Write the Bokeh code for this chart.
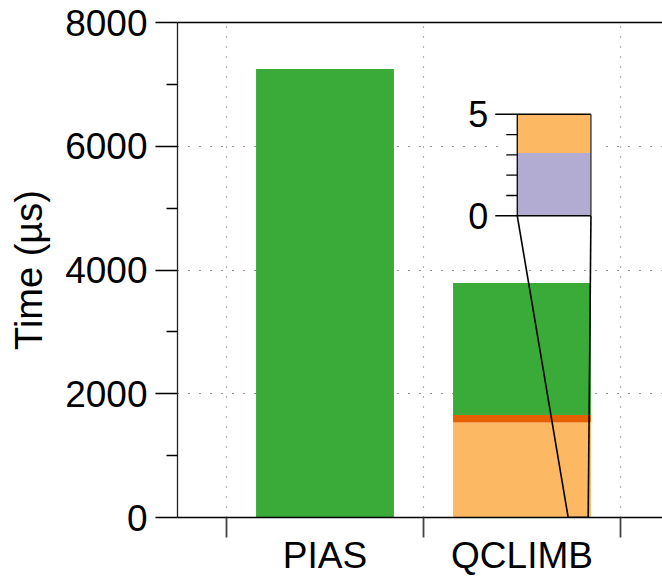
from bokeh.plotting import figure
from bokeh.models import ColumnDataSource, FixedTicker, LinearAxis, Range1d
from bokeh.embed import file_html
from bokeh.resources import INLINE
from bokeh.core.properties import value
import numpy as np

# ---------------- data ----------------
categories = ["PIAS", "QCLIMB"]
cat_pos = [1, 2]
stage_purple = [0.0, 3.1]          # µs
stage_light_orange = [0.0, 1534.0]
stage_dark_orange = [0.0, 120.0]
stage_green = [7250.0, 2133.0]

y_major = [0, 2000, 4000, 6000, 8000]
y_minor = [1000, 3000, 5000, 7000]
group_bounds = [0.5, 1.5, 2.5]

inset_major = [0, 5]
inset_minor = [1, 2, 3, 4]
inset_max = 5

C_PURPLE = "#b2abd2"
C_LIGHT = "#fdb863"
C_DARK = "#e66101"
C_GREEN = "#3aab39"
FONT = "Liberation Sans"

# ---------------- layout ----------------
W, H = 662, 578
LEFT, TOP, BOTTOM, RIGHT = 177, 22, 60, 0
FRAME_W = W - LEFT - RIGHT
X_START, X_END = 0.2513, 2.7132
PX_PER_X = FRAME_W / (X_END - X_START)
BAR_W = 0.7

# inset placement (main-axis coordinates)
INSET_LEFT = 1.976
INSET_RIGHT = cat_pos[1] + BAR_W / 2
INSET_Y0, INSET_Y1 = 4876.0, 6516.0
ZOOM_X0, ZOOM_X1 = 2.2345, 2.336

p = figure(width=W, height=H, x_range=Range1d(X_START, X_END), y_range=Range1d(0, 8000),
           output_backend="svg", toolbar_location=None,
           min_border_left=LEFT, min_border_right=RIGHT, min_border_top=TOP,
           min_border_bottom=BOTTOM)
p.outline_line_color = None
p.background_fill_color = "white"
p.border_fill_color = "white"

# inset y-range mapped onto the main frame
scale = (INSET_Y1 - INSET_Y0) / inset_max
p.extra_y_ranges = {"inset": Range1d(0 - INSET_Y0 / scale, inset_max + (8000 - INSET_Y1) / scale)}

# ---------------- axes ----------------
yax = p.yaxis[0]
yax.ticker = FixedTicker(ticks=y_major, minor_ticks=y_minor)
yax.major_tick_out = 22
yax.major_tick_in = 0
yax.minor_tick_out = 11
yax.minor_tick_in = 0
yax.major_tick_line_color = "black"
yax.minor_tick_line_color = "black"
yax.major_tick_line_width = 1.3
yax.minor_tick_line_width = 1.3
yax.axis_line_color = "#222"
yax.axis_line_width = 1.3
yax.major_label_text_font = FONT
yax.major_label_text_font_size = "37px"
yax.major_label_text_color = "black"
yax.major_label_standoff = 8
yax.axis_label = "Time (µs)"
yax.axis_label_text_font = FONT
yax.axis_label_text_font_size = "38px"
yax.axis_label_text_font_style = "normal"
yax.axis_label_text_color = "black"
yax.axis_label_standoff = 12

xax = p.xaxis[0]
xax.ticker = FixedTicker(ticks=cat_pos, minor_ticks=group_bounds)
xax.major_label_overrides = {pos: name for pos, name in zip(cat_pos, categories)}
xax.major_tick_out = 0
xax.major_tick_in = 0
xax.minor_tick_out = 20
xax.minor_tick_in = 0
xax.minor_tick_line_color = "#444"
xax.minor_tick_line_width = 1.8
xax.axis_line_color = "black"
xax.axis_line_width = 1.5
xax.major_label_text_font = FONT
xax.major_label_text_font_size = "37px"
xax.major_label_text_line_height = 1.0
xax.major_label_text_color = "black"
xax.major_label_standoff = -3

top_ax = LinearAxis(ticker=FixedTicker(ticks=[]), major_label_text_font_size="0px",
                    major_tick_out=0, major_tick_in=0, minor_tick_out=0, minor_tick_in=0,
                    axis_line_color="black", axis_line_width=1.5)
p.add_layout(top_ax, "above")

# ---------------- grid ----------------
p.ygrid.ticker = FixedTicker(ticks=y_major[1:-1])
p.ygrid.grid_line_dash = "1 10"
p.ygrid.grid_line_color = "#333"
p.ygrid.grid_line_width = 1.2
p.xgrid.ticker = FixedTicker(ticks=group_bounds)
p.xgrid.grid_line_dash = "1 9"
p.xgrid.grid_line_color = "#666"
p.xgrid.grid_line_width = 1.2

# ---------------- main bars ----------------
src = ColumnDataSource(dict(x=cat_pos, purple=stage_purple, light=stage_light_orange,
                            dark=stage_dark_orange, green=stage_green))
p.vbar_stack(["purple", "light", "dark", "green"], x="x", width=BAR_W,
             color=[C_PURPLE, C_LIGHT, C_DARK, C_GREEN], line_color=None, source=src)

# ---------------- inset ----------------
# white backdrop behind the inset
pad_px = 14
p.quad(left=INSET_LEFT - pad_px / PX_PER_X, right=INSET_RIGHT + 6 / PX_PER_X,
       bottom=-0.4, top=inset_max + 0.4, fill_color="white", line_color=None,
       y_range_name="inset")

q_vals = np.array([stage_purple[1], stage_light_orange[1]])
q_tops = np.clip(np.cumsum(q_vals), 0, inset_max)
q_bottoms = np.concatenate([[0.0], q_tops[:-1]])
p.quad(left=INSET_LEFT, right=INSET_RIGHT, bottom=q_bottoms, top=q_tops,
       fill_color=[C_PURPLE, C_LIGHT], line_color=None, y_range_name="inset")

# connector lines from inset to the zoomed region
p.segment(x0=[INSET_LEFT, INSET_RIGHT], y0=[INSET_Y0, INSET_Y0],
          x1=[ZOOM_X0, ZOOM_X1], y1=[0, 0], line_color="black", line_width=1.6)
p.quad(left=ZOOM_X0, right=ZOOM_X1, bottom=0, top=inset_max, fill_color=None,
       line_color="#333", line_width=1.2)

# inset frame
maj_len = 22 / PX_PER_X
min_len = 11 / PX_PER_X
p.segment(x0=[INSET_LEFT - maj_len] * len(inset_major), y0=inset_major,
          x1=[INSET_RIGHT] * len(inset_major), y1=inset_major,
          line_color="black", line_width=1.5, y_range_name="inset")
p.segment(x0=[INSET_LEFT - min_len] * len(inset_minor), y0=inset_minor,
          x1=[INSET_LEFT] * len(inset_minor), y1=inset_minor,
          line_color="black", line_width=1.3, y_range_name="inset")
p.segment(x0=[INSET_LEFT, INSET_RIGHT], y0=[0, 0], x1=[INSET_LEFT, INSET_RIGHT],
          y1=[inset_max, inset_max], line_color=["black", "#333"], line_width=1.3,
          y_range_name="inset")
p.text(x=[INSET_LEFT] * len(inset_major), y=inset_major,
       text=[str(v) for v in inset_major], x_offset=-29,
       text_align="right", text_baseline="middle", text_font=value(FONT),
       text_font_size="36px", text_color="black", y_range_name="inset")

open("out.html", "w").write(file_html(p, INLINE))
